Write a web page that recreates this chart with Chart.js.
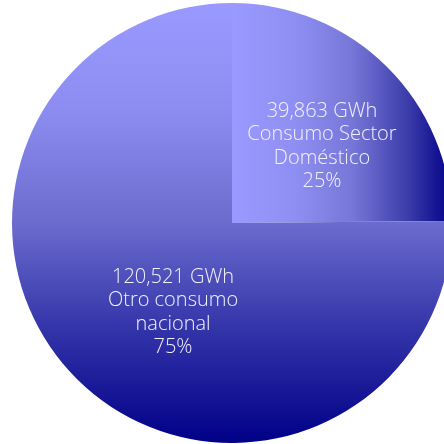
<!DOCTYPE html>
<html>
<head>
<meta charset="utf-8">
<script src="https://cdn.jsdelivr.net/npm/chart.js@4"></script>
<style>
  html, body { margin: 0; padding: 0; background: #fff; overflow: hidden; }
  #wrap { width: 464px; height: 446px; }
</style>
</head>
<body>
<div id="wrap"><canvas id="myChart"></canvas></div>
<script>
const categorias = ["Consumo Sector Doméstico", "Otro consumo nacional"]
const consumoGWh = [39863, 120521]
const valoresTexto = ["39,863 GWh", "120,521 GWh"]
const porcentajes = ["25%", "75%"]
const etiquetas = [["Consumo Sector", "Doméstico"], ["Otro consumo", "nacional"]]

const ctx = document.getElementById('myChart')

// degradado de cada sector, segun el area del grafico
const colorSector = (c) => {
  const chart = c.chart
  const area = chart.chartArea
  if (!area) return '#6a6acc'
  const g = chart.ctx
  let grad
  if (c.dataIndex === 0) {
    const cx = (area.left + area.right) / 2
    grad = g.createLinearGradient(cx, 0, area.right, 0)
    grad.addColorStop(0, '#9999ff')
    grad.addColorStop(0.3, '#8e8ef2')
    grad.addColorStop(0.55, '#7676d8')
    grad.addColorStop(0.8, '#3c3caa')
    grad.addColorStop(1, '#000088')
  } else {
    grad = g.createLinearGradient(0, area.top, 0, area.bottom)
    grad.addColorStop(0, '#9999ff')
    grad.addColorStop(0.25, '#8c8cf0')
    grad.addColorStop(0.5, '#6b6bce')
    grad.addColorStop(0.75, '#3232a8')
    grad.addColorStop(1, '#000088')
  }
  return grad
}

// textos dentro de cada sector
const anclas = [{ ang: -0.705, d: 0.537 }, { ang: 2.155, d: 0.486 }]
const textosSectores = {
  id: 'textosSectores',
  afterDatasetsDraw(chart) {
    const g = chart.ctx
    const meta = chart.getDatasetMeta(0)
    g.save()
    g.fillStyle = '#f2f2ff'
    g.font = '300 20px "Open Sans"'
    g.textAlign = 'center'
    g.textBaseline = 'middle'
    meta.data.forEach((arc, i) => {
      const r = arc.outerRadius * anclas[i].d
      const x = arc.x + Math.cos(anclas[i].ang) * r
      const y = arc.y + Math.sin(anclas[i].ang) * r
      const lineas = [valoresTexto[i], ...etiquetas[i], porcentajes[i]]
      const alto = 23.5
      lineas.forEach((l, k) => {
        g.fillText(l, x, y + (k - (lineas.length - 1) / 2) * alto)
      })
    })
    g.restore()
  }
}

new Chart(ctx, {
  type: 'pie',
  data: {
    labels: categorias,
    datasets: [{
      data: consumoGWh,
      backgroundColor: colorSector,
      borderWidth: 0
    }]
  },
  options: {
    responsive: true,
    maintainAspectRatio: false,
    animation: false,
    layout: { padding: { left: 12, right: 12, top: 3, bottom: 3 } },
    plugins: {
      legend: { display: false },
      tooltip: { enabled: false }
    }
  },
  plugins: [textosSectores]
})
</script>
</body>
</html>
